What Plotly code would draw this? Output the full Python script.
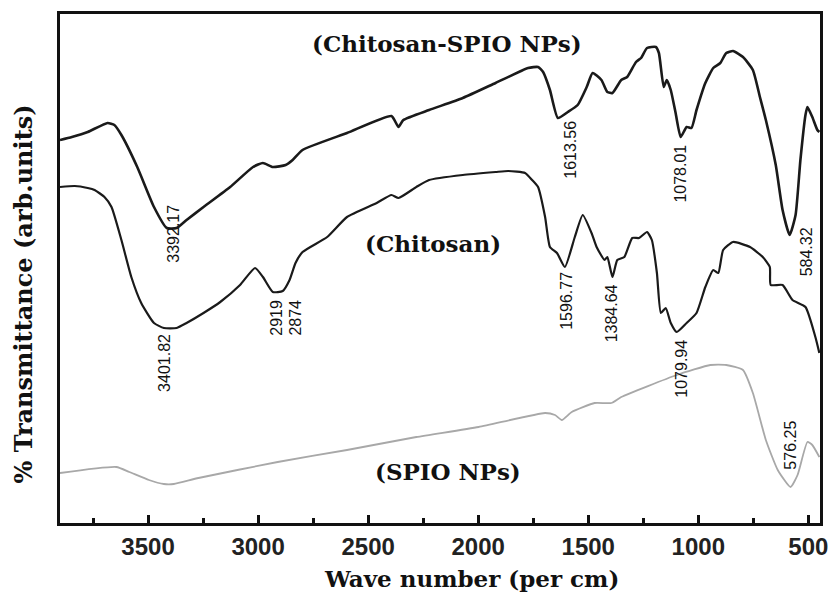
import plotly.graph_objects as go

# ---- Data (wavenumber in cm^-1, transmittance in arbitrary units) ----
cs_spio_wn = [3900, 3846, 3774, 3684, 3653, 3621, 3549, 3473, 3415, 3370, 3325, 3248, 3127, 3023,
              2978, 2933, 2875, 2843, 2798, 2596, 2394, 2362, 2340, 2223, 2070, 1921, 1773, 1728,
              1705, 1674, 1638, 1593, 1548, 1507, 1480, 1440, 1413, 1390, 1350, 1323, 1283, 1260,
              1233, 1193, 1179, 1157, 1143, 1125, 1103, 1080, 1053, 1031, 1008, 968, 932, 900, 873,
              842, 797, 752, 720, 693, 648, 617, 585, 558, 536, 513, 504, 482, 459, 450]
cs_spio_t = [383, 386, 391, 400, 398, 388, 356, 316, 295, 295, 303, 316, 336, 356,
             360, 356, 358, 363, 373, 390, 407, 396, 403, 413, 425, 440, 455, 456,
             451, 433, 405, 411, 418, 436, 450, 443, 431, 430, 443, 446, 461, 465,
             475, 476, 470, 436, 443, 433, 410, 386, 396, 395, 413, 440, 455, 460, 470,
             472, 466, 453, 426, 403, 358, 313, 288, 308, 363, 408, 416, 406, 393, 391]

cs_wn = [3900, 3833, 3774, 3743, 3698, 3666, 3621, 3576, 3531, 3473, 3428, 3370, 3325, 3248,
         3172, 3082, 3014, 2978, 2933, 2888, 2857, 2830, 2798, 2686, 2596, 2461, 2394, 2362,
         2281, 2223, 2070, 1921, 1863, 1787, 1755, 1728, 1696, 1674, 1642, 1606, 1561, 1525,
         1485, 1462, 1426, 1413, 1390, 1368, 1336, 1300, 1269, 1233, 1211, 1188, 1170, 1148,
         1125, 1098, 1053, 1008, 968, 932, 909, 887, 842, 765, 707, 675, 671, 617, 572, 513,
         468, 450]
cs_t = [336, 337, 335, 333, 326, 316, 283, 246, 220, 200, 195, 195, 200, 210,
        221, 238, 255, 246, 231, 232, 243, 260, 271, 286, 306, 320, 328, 325,
        336, 343, 348, 351, 352, 350, 343, 336, 306, 276, 270, 256, 286, 308,
        290, 276, 263, 266, 246, 263, 266, 285, 285, 291, 283, 250, 210, 215,
        200, 191, 200, 210, 236, 253, 250, 273, 281, 276, 266, 256, 238, 238, 223, 216,
        186, 170]

spio_wn = [3900, 3644, 3585, 3496, 3428, 3383, 3271, 2911, 2596, 2281, 1998, 1696, 1651, 1620,
           1575, 1471, 1395, 1350, 1098, 945, 873, 797, 752, 693, 639, 581, 549, 504, 482, 450]
spio_t = [50, 56, 51, 43, 39, 39, 45, 61, 73, 86, 96, 110, 108, 103,
          111, 120, 120, 126, 148, 158, 158, 153, 130, 83, 53, 36, 48, 81, 78, 66]

peak_text = ["3392.17", "3401.82", "2919", "2874", "1613.56", "1078.01", "584.32",
             "1596.77", "1384.64", "1079.94", "576.25"]
peak_wn = [3388, 3428, 2920, 2834, 1584, 1085, 509, 1602, 1395, 1080, 585]
peak_t = [289, 160, 205, 205, 373, 349, 271, 222, 210, 154, 78]

series_names = ["(Chitosan-SPIO NPs)", "(Chitosan)", "(SPIO NPs)"]
series_label_wn = [2142, 2205, 2137]
series_label_t = [480, 280, 52]

tick_vals = [3500, 3000, 2500, 2000, 1500, 1000, 500]
tick_text = ["3500", "3000", "2500", "2000", "1500", "1000", "500"]

# ---- Figure ----
W, H = 838, 595
ml, mr, mt, mb = 60, 10, 14, 72
pw, ph = W - ml - mr, H - mt - mb

fig = go.Figure()
fig.add_trace(go.Scatter(x=cs_spio_wn, y=cs_spio_t, mode="lines",
                         line=dict(color="#1a1a1a", width=2.6, shape="spline", smoothing=0.5),
                         name=series_names[0]))
fig.add_trace(go.Scatter(x=cs_wn, y=cs_t, mode="lines",
                         line=dict(color="#1a1a1a", width=2.2, shape="spline", smoothing=0.5),
                         name=series_names[1]))
fig.add_trace(go.Scatter(x=spio_wn, y=spio_t, mode="lines",
                         line=dict(color="#a8a8a8", width=1.8, shape="spline", smoothing=0.5),
                         name=series_names[2]))

for txt, xw, yt in zip(peak_text, peak_wn, peak_t):
    fig.add_annotation(x=xw, y=yt, xref="x", yref="y", text=txt, showarrow=False,
                       xanchor="center", yanchor="middle", textangle=-90,
                       font=dict(family="Liberation Sans, Arial", size=16, color="#111"))

for txt, xw, yt in zip(series_names, series_label_wn, series_label_t):
    fig.add_annotation(x=xw, y=yt, xref="x", yref="y", text=txt, showarrow=False,
                       xanchor="center", yanchor="middle",
                       font=dict(family="DejaVu Serif", size=23, color="#111", weight="bold"))

# axis titles placed by pixel position converted to paper coordinates
fig.add_annotation(x=(476 - ml) / pw, y=(H - mb - 578) / ph, xref="paper", yref="paper",
                   text="Wave number (per cm)", showarrow=False,
                   xanchor="center", yanchor="middle",
                   font=dict(family="DejaVu Serif", size=23, color="#111", weight="bold"))
fig.add_annotation(x=(24 - ml) / pw, y=(H - mb - 294) / ph, xref="paper", yref="paper",
                   text="% Transmittance (arb.units)", showarrow=False, textangle=-90,
                   xanchor="center", yanchor="middle",
                   font=dict(family="DejaVu Serif", size=24, color="#111", weight="bold"))

fig.update_layout(
    width=W, height=H,
    margin=dict(l=ml, r=mr, t=mt, b=mb),
    paper_bgcolor="white", plot_bgcolor="white",
    showlegend=False,
    xaxis=dict(range=[3900, 447], tickvals=tick_vals, ticktext=tick_text,
               ticks="inside", ticklen=8, tickwidth=2.5, tickcolor="#111",
               showline=True, linecolor="#111", linewidth=3, mirror=True,
               showgrid=False, zeroline=False,
               tickfont=dict(family="Liberation Sans, Arial", size=24, color="#222", weight="bold"),
               minor=dict(ticks="inside", ticklen=5, tickwidth=2.5, tickcolor="#111",
                          tick0=250, dtick=500, showgrid=False)),
    yaxis=dict(range=[0, 509], showticklabels=False, ticks="",
               showline=True, linecolor="#111", linewidth=3, mirror=True,
               showgrid=False, zeroline=False),
)

fig.write_html("out.html")
